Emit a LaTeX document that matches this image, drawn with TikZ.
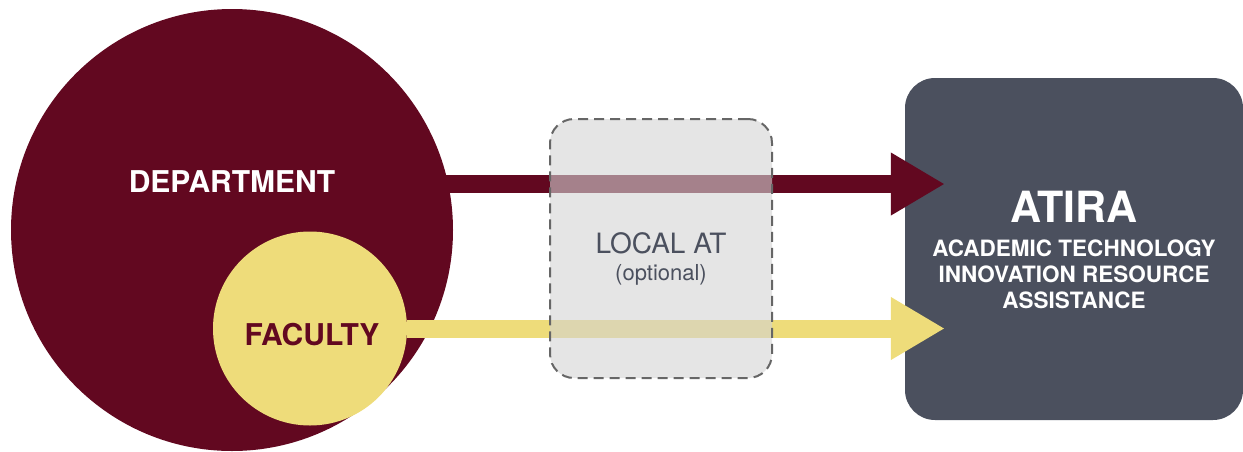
\documentclass[tikz,border=0pt]{standalone}
\usepackage{fontspec}
\setmainfont{TeX Gyre Heros}
\usetikzlibrary{arrows.meta,positioning,calc}
\definecolor{deptred}{HTML}{620820}
\definecolor{facyellow}{HTML}{EEDC7A}
\definecolor{atiraslate}{HTML}{4B505E}
\definecolor{localgray}{HTML}{D3D3D3}
\definecolor{dashgray}{HTML}{666666}

\begin{document}
\begin{tikzpicture}[x=1pt,y=-1pt,
  bubble/.style={circle,inner sep=0pt,draw=none},
  flow/.style={line width=18pt,-{Triangle[length=54pt,width=59pt]}},
  boldlabel/.style={font=\bfseries\fontsize{30}{30}\selectfont,inner sep=0pt,anchor=base}]
  \useasboundingbox (0,0) rectangle (1243,451);
  % circles
  \node[bubble,fill=deptred,minimum size=442pt] (dept) at (232,230) {};
  \node[bubble,fill=facyellow,minimum size=194pt] (faculty) at (310,328.5) {};
  % atira box
  \node[fill=atiraslate,rounded corners=30pt,minimum width=338pt,minimum height=342pt] (atira) at (1074,249) {};
  % arrows into atira
  \draw[flow,deptred] ([xshift=-30pt]dept.12.3) -- ($(atira.west |- dept.12.3)+(40,0)$);
  \draw[flow,facyellow] (faculty.east) -- ($(atira.west |- faculty.east)+(40,0)$);
  % optional local box (see-through)
  \node[draw=dashgray,line width=2pt,dash pattern=on 10pt off 6pt,fill=localgray,fill opacity=0.6,
    rounded corners=24pt,minimum width=222pt,minimum height=259pt] (local) at (661,248.5) {};
  % labels
  \node[boldlabel,white] (deptname) at ([yshift=38pt]dept.center) {DEPARTMENT};
  \node[boldlabel,deptred] (facname) at ([xshift=2pt,yshift=-16.5pt]faculty.center) {FACULTY};
  \node[anchor=base,inner sep=0pt,text=atiraslate,font=\fontsize{28}{28}\selectfont] (localname)
    at ([yshift=-4.5pt]local.center) {LOCAL AT};
  \node[anchor=base,inner sep=0pt,text=atiraslate,font=\fontsize{22}{22}\selectfont] (localnote)
    at ([yshift=-32pt]local.center) {(optional)};
  \node[anchor=base,inner sep=0pt,white,font=\bfseries\fontsize{43}{43}\selectfont] (atiraname)
    at ([yshift=27pt]atira.center) {ATIRA};
  \node[anchor=north,inner sep=0pt,white,align=center,font=\bfseries\fontsize{22.5}{26}\selectfont] (atiralong)
    at ([yshift=9.5pt]atira.center) {ACADEMIC TECHNOLOGY\\INNOVATION RESOURCE\\ASSISTANCE};
\end{tikzpicture}
\end{document}
